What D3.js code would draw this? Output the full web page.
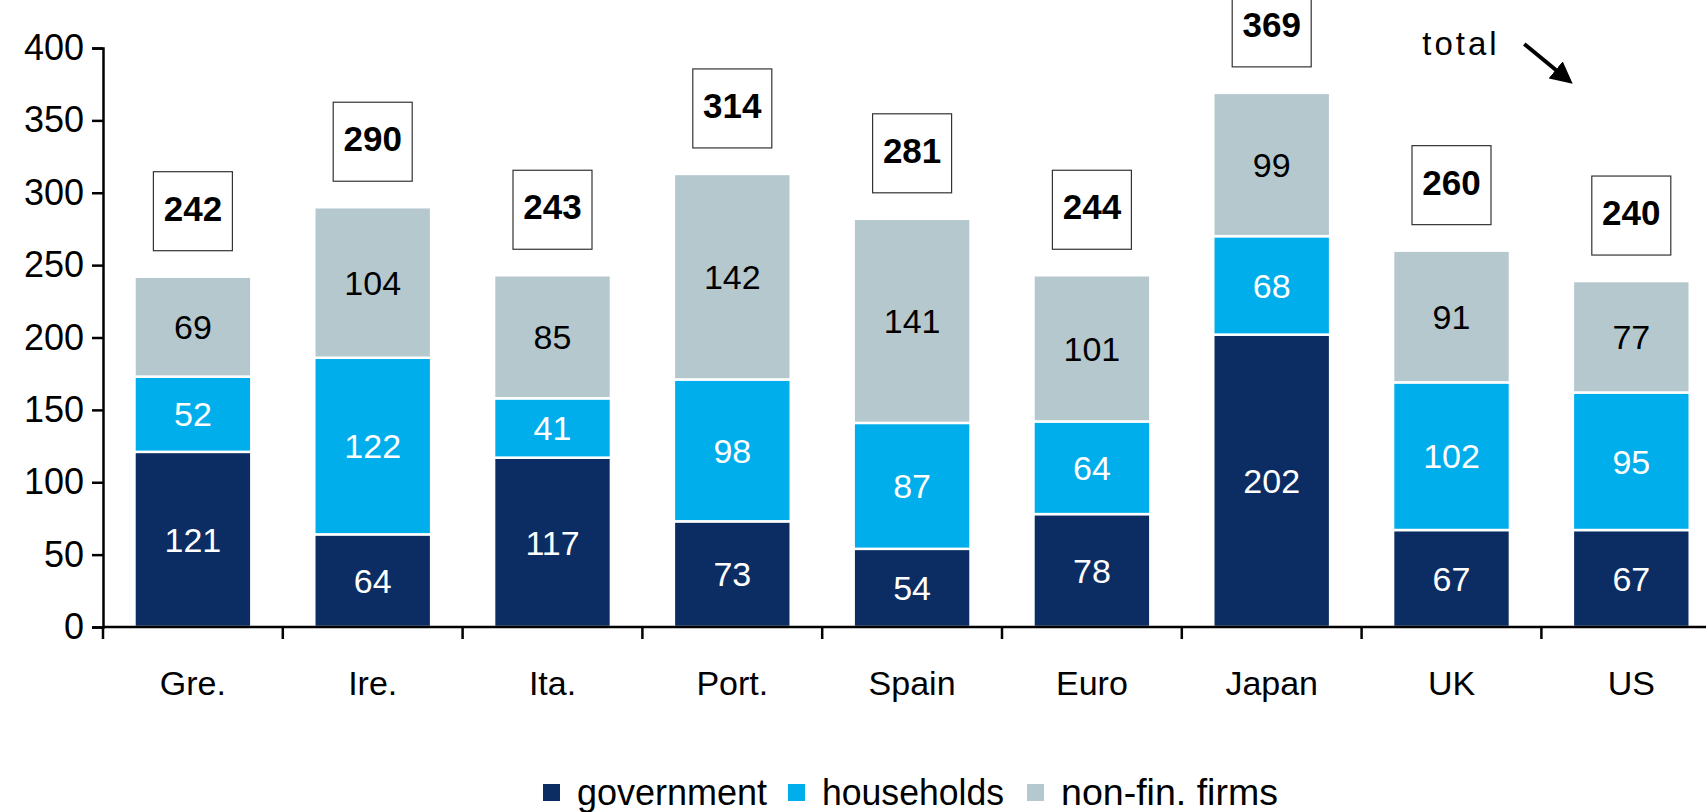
<!DOCTYPE html>
<html lang="en">
<head>
    <meta charset="UTF-8">
    <title>Debt by sector</title>
    <script src="https://cdn.jsdelivr.net/npm/d3@7"></script>
    <style>
        body{
            margin: 0;
            background: #ffffff;
        }
        text{
            font-family: "Liberation Sans", Arial, sans-serif;
        }
    </style>
</head>
<body>

<svg id="chart" width="1706" height="812"></svg>

<script>
    // data
    const countries = ["Gre.", "Ire.", "Ita.", "Port.", "Spain", "Euro", "Japan", "UK", "US"];
    const government = [121, 64, 117, 73, 54, 78, 202, 67, 67];
    const households = [52, 122, 41, 98, 87, 64, 68, 102, 95];
    const nonFinFirms = [69, 104, 85, 142, 141, 101, 99, 91, 77];
    const totals = [242, 290, 243, 314, 281, 244, 369, 260, 240];
    const yTicks = [0, 50, 100, 150, 200, 250, 300, 350, 400];

    const seriesNames = ["government", "households", "non-fin. firms"];
    const seriesKeys = ["gov", "hh", "nff"];
    const colors = ["#0c2d63", "#00aeeb", "#b4c8ce"];

    let svg = d3.select("#chart")

    const left = 103;
    const bandStep = 179.8;

    let x = d3.scaleBand()
        .domain(countries)
        .range([left, left + bandStep * countries.length])
        .paddingInner(0.35)
        .paddingOuter(0.175)

    let y = d3.scaleLinear()
        .domain([0, 400])
        .range([627, 48])

    let rows = countries.map((c, i) => ({
        country: c, gov: government[i], hh: households[i], nff: nonFinFirms[i], total: totals[i]
    }))

    let stack = d3.stack().keys(seriesKeys)
    let stacked = stack(rows)

    // bars
    let layers = svg.append("g")
        .selectAll("g")
        .data(stacked)
        .join("g")
        .attr("fill", (d, i) => colors[i])

    layers.selectAll("rect")
        .data(d => d)
        .join("rect")
        .attr("x", d => x(d.data.country))
        .attr("width", x.bandwidth())
        .attr("y", d => y(d[1]))
        .attr("height", d => y(d[0]) - y(d[1]))
        .attr("stroke", "#ffffff")
        .attr("stroke-width", 2.5)

    // segment labels
    stacked.forEach((layer, li) => {
        svg.append("g")
            .selectAll("text")
            .data(layer)
            .join("text")
            .attr("x", d => x(d.data.country) + x.bandwidth() / 2)
            .attr("y", d => (y(d[0]) + y(d[1])) / 2)
            .attr("dy", "0.36em")
            .attr("text-anchor", "middle")
            .attr("font-size", 34)
            .attr("fill", li === 2 ? "#000000" : "#ffffff")
            .text(d => d[1] - d[0])
    })

    // total boxes
    const boxSize = 79;
    let boxes = svg.append("g")
        .selectAll("g")
        .data(rows)
        .join("g")
        .attr("transform", d => "translate(" + (x(d.country) + x.bandwidth() / 2) + "," +
            (y(d.gov + d.hh + d.nff) - 26 - boxSize / 2) + ")")

    boxes.append("rect")
        .attr("x", -boxSize / 2)
        .attr("y", -boxSize / 2)
        .attr("width", boxSize)
        .attr("height", boxSize)
        .attr("fill", "#ffffff")
        .attr("stroke", "#333333")
        .attr("stroke-width", 1.2)

    boxes.append("text")
        .attr("text-anchor", "middle")
        .attr("dy", "0.36em")
        .attr("y", -3)
        .attr("font-size", 35)
        .attr("font-weight", "bold")
        .text(d => d.total)

    // y axis
    let yAxis = svg.append("g")
        .attr("transform", "translate(" + left + ",0)")
        .call(d3.axisLeft(y).tickValues(yTicks).tickSize(11).tickPadding(8))
    yAxis.select(".domain").attr("stroke", "#000").attr("stroke-width", 2.5)
    yAxis.selectAll(".tick line").attr("stroke", "#000").attr("stroke-width", 2.5)
    yAxis.selectAll(".tick text")
        .attr("font-size", 36)
        .attr("fill", "#000")
        .attr("font-family", "'Liberation Sans', Arial, sans-serif")

    // x axis: line plus ticks at band edges
    svg.append("line")
        .attr("x1", left)
        .attr("x2", left + bandStep * countries.length)
        .attr("y1", y(0))
        .attr("y2", y(0))
        .attr("stroke", "#000")
        .attr("stroke-width", 2.5)

    svg.append("g")
        .selectAll("line")
        .data(d3.range(countries.length + 1))
        .join("line")
        .attr("x1", i => left + i * bandStep)
        .attr("x2", i => left + i * bandStep)
        .attr("y1", y(0))
        .attr("y2", y(0) + 12)
        .attr("stroke", "#000")
        .attr("stroke-width", 2.5)

    svg.append("g")
        .selectAll("text")
        .data(countries)
        .join("text")
        .attr("x", d => x(d) + x.bandwidth() / 2)
        .attr("y", 695)
        .attr("text-anchor", "middle")
        .attr("font-size", 34)
        .text(d => d)

    // "total" annotation with arrow
    let usX = x("US") + x.bandwidth() / 2;
    svg.append("defs").append("marker")
        .attr("id", "arrowhead")
        .attr("viewBox", "0 0 10 10")
        .attr("refX", 8)
        .attr("refY", 5)
        .attr("markerWidth", 5.5)
        .attr("markerHeight", 5.5)
        .attr("orient", "auto")
        .append("path")
        .attr("d", "M0,0 L10,5 L0,10 z")
        .attr("fill", "#000")

    svg.append("text")
        .attr("x", usX - 209)
        .attr("y", 55)
        .attr("font-size", 33)
        .attr("letter-spacing", 3)
        .text("total")

    svg.append("line")
        .attr("x1", usX - 107)
        .attr("y1", 44)
        .attr("x2", usX - 62)
        .attr("y2", 81)
        .attr("stroke", "#000")
        .attr("stroke-width", 4)
        .attr("marker-end", "url(#arrowhead)")

    // legend
    const legendX = [543, 788, 1027];
    const legendTextW = [190, 182, 217];
    let legend = svg.append("g")
        .selectAll("g")
        .data(seriesNames)
        .join("g")
        .attr("transform", (d, i) => "translate(" + legendX[i] + ",0)")

    legend.append("rect")
        .attr("x", 0)
        .attr("y", 784)
        .attr("width", 17)
        .attr("height", 17)
        .attr("fill", (d, i) => colors[i])

    legend.append("text")
        .attr("x", 34)
        .attr("y", 805)
        .attr("font-size", 37)
        .attr("textLength", (d, i) => legendTextW[i])
        .attr("lengthAdjust", "spacingAndGlyphs")
        .text(d => d)
</script>

</body>
</html>
